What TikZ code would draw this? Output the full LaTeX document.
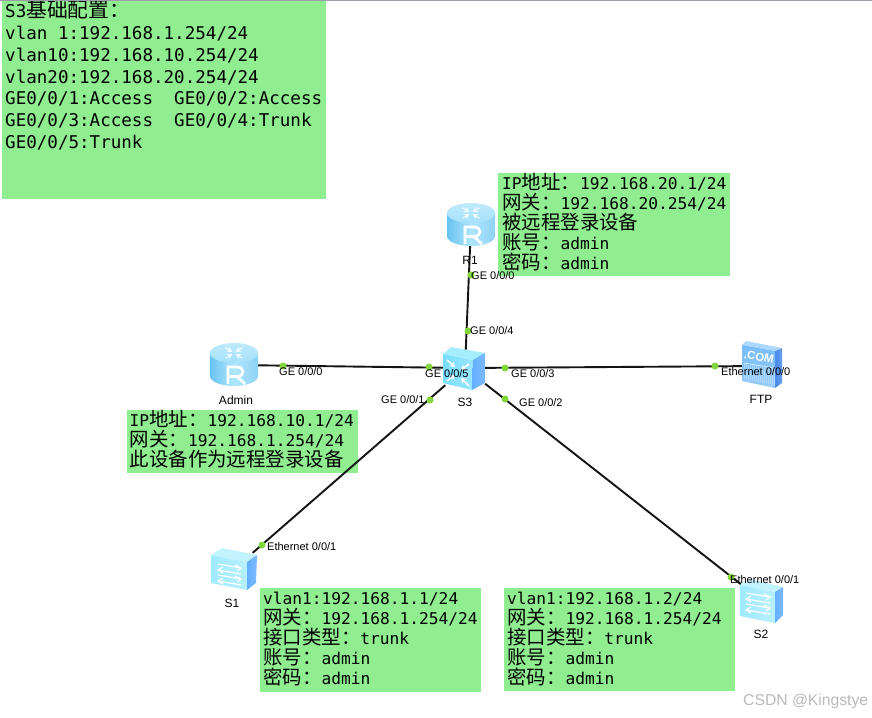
\documentclass[tikz,border=0pt]{standalone}
\usepackage{fontspec}
\usetikzlibrary{arrows.meta}
\setmainfont{Liberation Sans}
\newfontfamily\monof{DejaVu Sans Mono}
\newfontfamily\cjkf{Noto Sans CJK SC}
\newcommand{\cjsize}{19.45}
\newcommand{\monosize}{16.2}
\newcommand{\cj}[1]{{\cjkf\fontsize{\cjsize}{20}\selectfont #1}}
\newcommand{\fc}{^^^^ff1a}
\definecolor{notegreen}{RGB}{144,238,144}
\definecolor{dotgreen}{RGB}{130,215,60}
\definecolor{swtop}{RGB}{195,243,255}
\definecolor{swfront}{RGB}{160,235,255}
\definecolor{swside}{RGB}{100,175,255}
\definecolor{s3top}{RGB}{165,238,255}
\definecolor{s3front}{RGB}{120,222,255}
\definecolor{s3side}{RGB}{95,190,250}
\definecolor{rlight}{RGB}{175,230,252}
\definecolor{rmid}{RGB}{105,195,242}
\definecolor{ftpfront}{RGB}{118,188,250}
\definecolor{ftpside}{RGB}{70,135,235}
\tikzset{x=1pt,y=-1pt,
 notebox/.style={fill=notegreen,inner sep=0pt,anchor=north west,align=left},
 devnode/.style={inner sep=0pt,minimum width=#1,minimum height=34pt},
 link/.style={line width=1.9pt,black!92},
 portdot/.style={circle,fill=dotgreen,inner sep=0pt,minimum size=7pt},
 portlabel/.style={anchor=west,inner sep=0pt,font=\fontsize{11}{12}\selectfont},
 devlabel/.style={inner sep=0pt,font=\fontsize{12}{13}\selectfont},
 iconline/.style={white,line width=1.2pt},
 xarrow/.style={white,line width=1.6pt,-{Stealth[length=5pt,width=6.5pt]}},
}
\newcommand{\notetext}[5]{% width height firstline skip body
 \parbox[c][#2pt][t]{#1pt}{\monof\fontsize{\monosize}{#4}\selectfont\raggedright\rule{0pt}{#3pt}#5}}
\newcommand{\routericon}[1]{%
 \begin{scope}[shift={(#1)}]
  \path[left color=rmid,right color=rmid!75!white,middle color=rlight] (-24,-11) -- (-24,12) arc[start angle=180,end angle=360,x radius=24,y radius=-10] -- (24,-11) -- cycle;
  \path[top color=rlight!80!white,bottom color=rlight!85!rmid] (0,-11) ellipse[x radius=24,y radius=10];
  \begin{scope}[shift={(0,-11)},yscale=.62]
  \foreach \a in {45,135,225,315}{
   \draw[white!85!rlight,line width=1.1pt,rotate=\a,-{Stealth[length=5pt,width=6pt]}] (12,0) -- (2.5,0);}
  \end{scope}
  \draw[white,line width=2.7pt,line join=miter] (-6,20) -- (-6,3) -- (3,3) .. controls (11,3) and (11,12.5) .. (3,12.5) -- (-6,12.5) (3,12.5) -- (11,20);
 \end{scope}}
\newcommand{\boxicon}[9]{% tl, back, backright, frontright, frontbottom, bottomleft, sidebottom, top colour, front colour
 \fill[#8] (#1) -- (#2) -- (#3) -- (#4) -- cycle;
 \path[left color=#9,right color=#9!75!white] (#1) -- (#4) -- (#5) -- (#6) -- cycle;
 \path[left color=swside,right color=swside!85!white] (#4) -- (#3) -- (#7) -- (#5) -- cycle;}
\begin{document}
\begin{tikzpicture}
\useasboundingbox (0,0) rectangle (872,717);
\fill[white] (0,0) rectangle (872,717);
% note boxes
\node[notebox] (cfg) at (2,0) {\renewcommand{\monosize}{17.55}\renewcommand{\cjsize}{20.8}\hspace{3pt}\notetext{321}{199}{17}{21.8}{S3\cj{基础配置\fc}\\vlan 1:192.168.1.254/24\\vlan10:192.168.10.254/24\\vlan20:192.168.20.254/24\\GE0/0/1:Access\ \ GE0/0/2:Access\\GE0/0/3:Access\ \ GE0/0/4:Trunk\\GE0/0/5:Trunk}};
\fill[black!35!blue!10!gray!70] (0,0) rectangle (872,1.2);
\node[notebox] (noteR) at (498,173) {\hspace{4pt}\notetext{228}{103}{15}{20}{IP\cj{地址\fc}192.168.20.1/24\\\cj{网关\fc}192.168.20.254/24\\\cj{被远程登录设备}\\\cj{账号\fc}admin\\\cj{密码\fc}admin}};
\node[notebox] (noteA) at (127,410) {\hspace{2.5pt}\notetext{228.5}{63}{16}{20}{IP\cj{地址\fc}192.168.10.1/24\\\cj{网关\fc}192.168.1.254/24\\\cj{此设备作为远程登录设备}}};
\node[notebox] (noteS1) at (260,588) {\hspace{3pt}\notetext{218}{104}{16}{20}{vlan1:192.168.1.1/24\\\cj{网关\fc}192.168.1.254/24\\\cj{接口类型\fc}trunk\\\cj{账号\fc}admin\\\cj{密码\fc}admin}};
\node[notebox] (noteS2) at (504,588) {\hspace{3pt}\notetext{228}{103}{16}{20}{vlan1:192.168.1.2/24\\\cj{网关\fc}192.168.1.254/24\\\cj{接口类型\fc}trunk\\\cj{账号\fc}admin\\\cj{密码\fc}admin}};
% device anchors
\node[devnode=48pt] (R1) at (471,225) {};
\node[devnode=48pt] (Admin) at (234,365) {};
\node[devnode=40pt] (S3) at (465,368) {};
\node[devnode=40pt] (FTP) at (762,366) {};
\node[devnode=40pt] (S1) at (233,570) {};
\node[devnode=40pt] (S2) at (761,600) {};
% connectors
\draw[link] (R1) -- (S3);
\draw[link] (Admin) -- (S3);
\draw[link] (S3) -- (FTP);
\draw[link] (S3) -- (S1);
\draw[link] (S3) -- (S2);
% icons
\routericon{471,224}
\routericon{234,364}
\boxicon{443,354}{451,347}{485,353}{473,360}{472,390}{443,383}{485,383}{s3top}{s3front}
\draw[xarrow] (447,360) -- (455,367);
\draw[xarrow] (469,364) -- (461,370);
\draw[xarrow] (447,381) -- (455,375);
\draw[xarrow] (469,386) -- (461,378);
\boxicon{211,555}{222,548}{257,555}{247,562}{247,590}{211,583}{256,583}{swtop}{swfront}
\begin{scope}[iconline]
 \draw (218,564) -- (241,568) (235,565) -- (241,568) -- (237,571);
 \draw (241,574) -- (218,570) (223,567) -- (218,570) -- (223,573);
 \draw (218,575) -- (241,579) (235,576) -- (241,579) -- (237,582);
 \draw (241,585) -- (218,581) (223,578) -- (218,581) -- (223,584);
\end{scope}
\boxicon{740,585}{750,579}{783,587}{775,592}{775,623}{740,616}{783,615}{swtop}{swfront}
\begin{scope}[iconline]
 \draw (746,593) -- (770,597) (764,594) -- (770,597) -- (766,600);
 \draw (770,603) -- (746,599) (751,596) -- (746,599) -- (751,602);
 \draw (746,604) -- (770,608) (764,605) -- (770,608) -- (766,611);
 \draw (770,614) -- (746,610) (751,607) -- (746,610) -- (751,613);
\end{scope}
\path[left color=ftpside,right color=ftpside!80!white] (775,351) -- (782,348) -- (782,383) -- (775,388) -- cycle;
\fill[ftpfront!60!white] (742,345) -- (746,341) -- (782,348) -- (775,351) -- cycle;
\path[top color=ftpfront,bottom color=ftpfront!75!white] (742,345) -- (775,351) -- (775,388) -- (742,381) -- cycle;
\foreach \i in {0,2,...,30}{\draw[white,opacity=.3,line width=.6pt] ({744+\i},{364+\i*.18}) -- ({744+\i},{379+\i*.2});}
\draw[white,opacity=.7,line width=.7pt] (744,363) -- (774,368);
\node[white,inner sep=0pt,rotate=-10,font=\bfseries\fontsize{11.5}{12}\selectfont] (com) at (759,357) {.COM};
% port dots
\node[portdot] (d1) at (471,275) {};
\node[portdot] (d2) at (468,331) {};
\node[portdot] (d3) at (283,366) {};
\node[portdot] (d4) at (429,367) {};
\node[portdot] (d5) at (430,400) {};
\node[portdot] (d6) at (505,368) {};
\node[portdot] (d7) at (505,399) {};
\node[portdot] (d8) at (715,366) {};
\node[portdot] (d9) at (262,545) {};
\node[portdot] (d10) at (731,577) {};
% device labels
\node[devlabel] (lR1) at (470,260) {R1};
\node[devlabel] (lAdmin) at (236,400) {Admin};
\node[devlabel] (lS3) at (465,402) {S3};
\node[devlabel] (lFTP) at (761,399) {FTP};
\node[devlabel] (lS1) at (232,603) {S1};
\node[devlabel] (lS2) at (761,634) {S2};
% port labels
\node[portlabel] (p1) at (471,276) {GE 0/0/0};
\node[portlabel] (p2) at (470,331) {GE 0/0/4};
\node[portlabel] (p3) at (279,372) {GE 0/0/0};
\node[portlabel] (p4) at (425,374) {GE 0/0/5};
\node[portlabel] (p5) at (381,400) {GE 0/0/1};
\node[portlabel] (p6) at (511,374) {GE 0/0/3};
\node[portlabel] (p7) at (519,403) {GE 0/0/2};
\node[portlabel] (p8) at (721,372) {Ethernet 0/0/0};
\node[portlabel] (p9) at (267,547) {Ethernet 0/0/1};
\node[portlabel] (p10) at (730,580) {Ethernet 0/0/1};
\node[anchor=west,inner sep=0pt,text=black!27,font=\fontsize{15.7}{17}\selectfont] (wm) at (743,701) {CSDN @Kingstye};
\end{tikzpicture}
\end{document}
